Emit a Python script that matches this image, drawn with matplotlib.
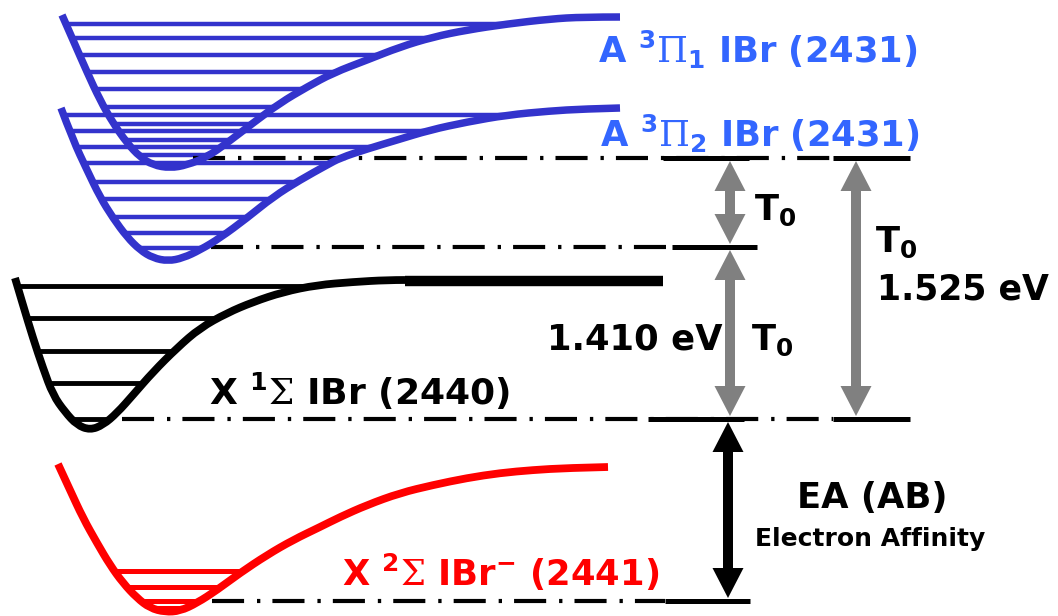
import matplotlib.pyplot as plt
from matplotlib.path import Path
from matplotlib.patches import PathPatch, FancyArrow

W, H = 1058, 616  # figure in pixels; all coordinates below are pixels (y down)

# potential energy curves
a1_x = [62, 73, 87, 100, 113, 127, 140, 153, 170, 187, 207, 227, 253, 280, 307, 333, 367, 400, 433, 467, 507, 550, 583, 620]
a1_y = [15, 40, 72, 100, 123, 143, 157, 165, 168, 165, 157, 143, 123, 103, 87, 73, 60, 47, 37, 30, 24, 19, 17, 17]
a2_x = [61, 73, 87, 100, 113, 127, 140, 153, 168, 183, 200, 220, 247, 273, 300, 327, 340, 367, 397, 430, 467, 507, 550, 583, 620]
a2_y = [108, 140, 170, 197, 218, 237, 250, 258, 261, 258, 250, 238, 218, 197, 180, 165, 158, 149, 140, 130, 122, 115, 111, 109, 108]
x_x = [15, 23, 33, 43, 53, 65, 77, 90, 103, 117, 133, 153, 177, 200, 227, 253, 283, 317, 353, 387, 405]
x_y = [278, 305, 338, 368, 395, 412, 425, 430, 425, 413, 395, 372, 348, 328, 313, 302, 292, 285, 282, 280, 280]
anion_x = [58, 70, 83, 97, 110, 123, 137, 150, 165, 180, 197, 217, 240, 267, 293, 320, 340, 367, 400, 433, 467, 500, 533, 567, 608]
anion_y = [464, 490, 518, 543, 565, 583, 598, 608, 612, 611, 603, 590, 573, 555, 540, 527, 517, 505, 493, 485, 478, 473, 470, 468, 467]

# vibrational levels
a1_levels = [24, 38, 55, 72, 89, 107, 124, 140, 155]
a2_levels = [115, 131, 147, 163, 182, 199, 217, 233, 248]
x_levels = [286, 318, 351, 383, 419]
anion_levels = [571, 587, 601, 608]

# v=0 energies and the reference lines drawn at them
e_a1, e_a2, e_x, e_anion = 158, 247, 419, 601
dashdot_spans = [(e_a1, 193, 833), (e_a2, 211, 672), (e_x, 122, 833), (e_anion, 212, 665)]
solid_spans = [(e_a1, 663, 749), (e_a1, 833, 910), (e_a2, 672, 757),
               (e_x, 648, 744), (e_x, 833, 910), (e_anion, 665, 750)]
x_dissoc = (281, 405, 663)  # flat dissociation limit of the X state

BLUE = '#3333CC'
LABEL_BLUE = '#3366FF'
GRAY = '#808080'

plt.rcParams['font.family'] = 'DejaVu Sans'
plt.rcParams['mathtext.fontset'] = 'custom'
plt.rcParams['mathtext.rm'] = 'DejaVu Serif'
plt.rcParams['mathtext.bf'] = 'DejaVu Sans:bold'

fig = plt.figure(figsize=(W / 100, H / 100), dpi=100)
ax = fig.add_axes([0, 0, 1, 1])
ax.set_xlim(0, W)
ax.set_ylim(H, 0)
ax.axis('off')


def smooth(xs, ys):
    # quadratic bezier chain using the read points as control points
    pts = list(zip(xs, ys))
    verts, codes = [pts[0]], [Path.MOVETO]
    for i in range(1, len(pts) - 1):
        if i < len(pts) - 2:
            end = ((pts[i][0] + pts[i + 1][0]) / 2, (pts[i][1] + pts[i + 1][1]) / 2)
        else:
            end = pts[i + 1]
        verts += [pts[i], end]
        codes += [Path.CURVE3, Path.CURVE3]
    return verts, codes


def well(xs, ys, levels, color, lw, level_lw):
    verts, codes = smooth(xs, ys)
    clip = PathPatch(Path(verts + [verts[0]], codes + [Path.CLOSEPOLY]),
                     facecolor='none', edgecolor='none')
    ax.add_patch(clip)
    lines = ax.hlines(levels, min(xs), max(xs), colors=color, linewidth=level_lw, zorder=2)
    lines.set_clip_path(clip)
    ax.add_patch(PathPatch(Path(verts, codes), fill=False, edgecolor=color, lw=lw,
                           capstyle='butt', joinstyle='round', zorder=3))


well(a1_x, a1_y, a1_levels, BLUE, 5.4, 3.2)
well(a2_x, a2_y, a2_levels, BLUE, 5.4, 3.2)
well(x_x, x_y, x_levels, 'black', 5.6, 3.5)
well(anion_x, anion_y, anion_levels, 'red', 5.6, 3.6)

ax.hlines(x_dissoc[0], x_dissoc[1], x_dissoc[2], colors='black', linewidth=7.5, zorder=3)

for y, x0, x1 in dashdot_spans:
    ax.hlines(y, x0, x1, colors='black', linewidth=3,
              linestyles=[(0, (7.7, 3.1, 0.8, 2.9))], zorder=2)
for y, x0, x1 in solid_spans:
    ax.hlines(y, x0, x1, colors='black', linewidth=3.6, zorder=2)


def double_arrow(x, y0, y1, color):
    mid = (y0 + y1) / 2
    for end in (y0, y1):
        start = mid - 3 if end > mid else mid + 3  # overlap the halves, no seam
        ax.add_patch(FancyArrow(x, start, 0, end - start, width=10, head_width=31,
                                head_length=30, length_includes_head=True,
                                color=color, lw=0, zorder=4))


double_arrow(730, e_a1 + 3, e_a2 - 3, GRAY)
double_arrow(730, e_a2 + 3, e_x - 3, GRAY)
double_arrow(856, e_a1 + 3, e_x - 3, GRAY)
double_arrow(728, e_x + 3, e_anion - 3, 'black')

big = 25.5
kw = dict(fontweight='bold', va='baseline', ha='left')
ax.text(598, 63, r'A $^{\mathbf{3}}\Pi_{\mathbf{1}}$ IBr (2431)', fontsize=big, color=LABEL_BLUE, **kw)
ax.text(600, 147, r'A $^{\mathbf{3}}\Pi_{\mathbf{2}}$ IBr (2431)', fontsize=big, color=LABEL_BLUE, **kw)
ax.text(754, 220, r'T$_{\mathbf{0}}$', fontsize=big, color='black', **kw)
ax.text(875, 252, r'T$_{\mathbf{0}}$', fontsize=big, color='black', **kw)
ax.text(877, 299, '1.525 eV', fontsize=25, color='black', **kw)
ax.text(547, 350, '1.410 eV', fontsize=big, color='black', **kw)
ax.text(751, 350, r'T$_{\mathbf{0}}$', fontsize=big, color='black', **kw)
ax.text(209, 405, r'X $^{\mathbf{1}}\Sigma$ IBr (2440)', fontsize=26, color='black', **kw)
ax.text(342, 586, r'X $^{\mathbf{2}}\Sigma$ IBr$^{\mathbf{-}}$ (2441)', fontsize=big, color='red', **kw)
ax.text(797, 508, 'EA (AB)', fontsize=big, color='black', **kw)
ax.text(755, 546, 'Electron Affinity', fontsize=18, color='black', **kw)

fig.savefig('out.png', dpi=100)
